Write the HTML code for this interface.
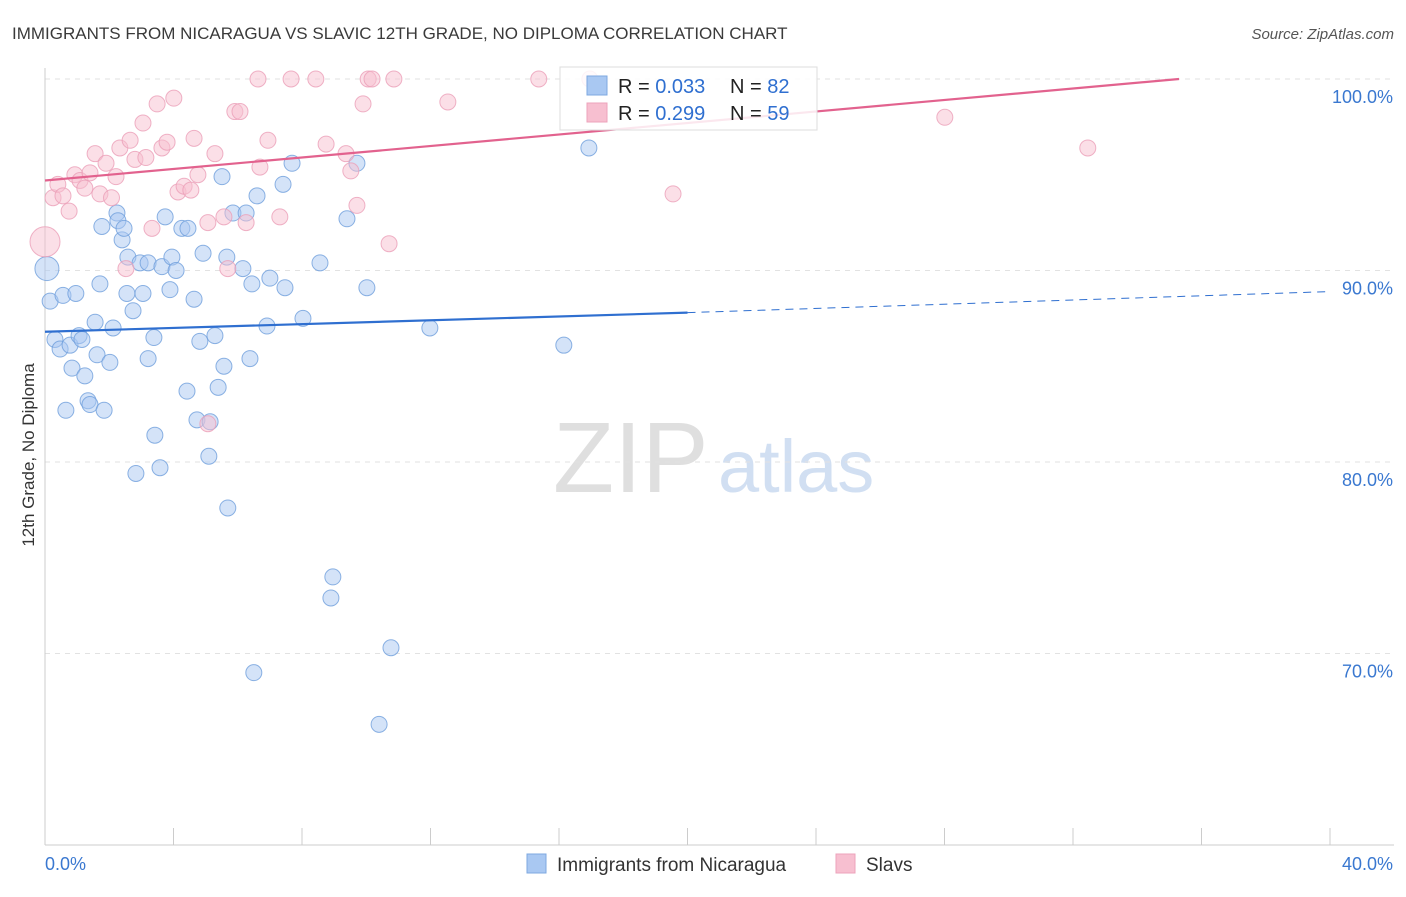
<!DOCTYPE html>
<html><head><meta charset="utf-8"><style>
body{margin:0;background:#fff;font-family:"Liberation Sans",sans-serif;}
svg text{font-family:"Liberation Sans",sans-serif;}
</style></head><body>
<svg id="chart" width="1406" height="892" xmlns="http://www.w3.org/2000/svg">
<text x="12" y="39" font-size="17" fill="#3a3a3a">IMMIGRANTS FROM NICARAGUA VS SLAVIC 12TH GRADE, NO DIPLOMA CORRELATION CHART</text>
<text x="1394" y="39" font-size="15" fill="#555" text-anchor="end" font-style="italic">Source: ZipAtlas.com</text>
<text transform="translate(34,455) rotate(-90)" font-size="17" fill="#333" text-anchor="middle">12th Grade, No Diploma</text>
<g>
<text x="553" y="492" font-size="100" fill="#d8d8d8" font-family="Liberation Serif" opacity="0.8">ZIP</text>
<text x="718" y="492" font-size="74" fill="#c6d8ef" opacity="0.8">atlas</text>
</g>
<g id="grid"></g><g id="axes"></g><g id="pts"></g><g id="lines"></g>
<g>
<rect x="560" y="67" width="257" height="63" fill="#fff" fill-opacity="0.85" stroke="#ddd"/>
<rect x="587" y="76" width="20" height="19" fill="#a9c8f2" stroke="#7ea8e0"/>
<rect x="587" y="103" width="20" height="19" fill="#f7bfd0" stroke="#eca3bb"/>
<text x="618" y="93" font-size="20" fill="#222">R = <tspan fill="#2f6fd0">0.033</tspan></text>
<text x="730" y="93" font-size="20" fill="#222">N = <tspan fill="#2f6fd0">82</tspan></text>
<text x="618" y="120" font-size="20" fill="#222">R = <tspan fill="#2f6fd0">0.299</tspan></text>
<text x="730" y="120" font-size="20" fill="#222">N = <tspan fill="#2f6fd0">59</tspan></text>
</g>
<g>
<rect x="527" y="854" width="19" height="19" fill="#a9c8f2" stroke="#7ea8e0"/>
<text x="557" y="871" font-size="19" fill="#333">Immigrants from Nicaragua</text>
<rect x="836" y="854" width="19" height="19" fill="#f7bfd0" stroke="#eca3bb"/>
<text x="866" y="871" font-size="19" fill="#333">Slavs</text>
</g>
</svg>
<script>
const yTicks=[100,90,80,70];
const xTickLabels=["0.0%","40.0%"];
const blueX=[0.06,0.16,0.31,0.47,0.56,0.65,0.78,0.84,0.96,1.06,1.15,1.24,1.34,1.40,1.56,1.62,1.71,1.84,2.02,2.12,1.77,2.24,2.27,2.40,2.46,2.58,2.55,2.74,2.83,2.96,3.05,3.21,3.21,3.39,3.42,3.58,3.64,3.74,3.89,3.95,4.08,4.26,4.45,4.42,4.64,4.73,4.82,4.92,5.10,5.14,5.29,5.39,5.51,5.57,5.66,5.69,5.85,6.16,6.26,6.38,6.50,6.44,6.60,6.91,7.00,7.41,7.47,7.69,8.03,8.56,8.90,8.96,9.40,9.71,10.02,10.40,10.77,11.98,16.15,16.93];
const blueY=[90.1,88.4,86.4,85.9,88.7,82.7,86.1,84.9,88.8,86.6,86.4,84.5,83.2,83.0,87.3,85.6,89.3,82.7,85.2,87.0,92.3,93.0,92.6,91.6,92.2,90.7,88.8,87.9,79.4,90.4,88.8,90.4,85.4,86.5,81.4,79.7,90.2,92.8,89.0,90.7,90.0,92.2,92.2,83.7,88.5,82.2,86.3,90.9,80.3,82.1,86.6,83.9,94.9,85.0,90.7,77.6,93.0,90.1,93.0,85.4,69.0,89.3,93.9,87.1,89.6,94.5,89.1,95.6,87.5,90.4,72.9,74.0,92.7,95.6,89.1,66.3,70.3,87.0,86.1,96.4];
const pinkX=[0,0.25,0.40,0.56,0.75,0.93,1.09,1.24,1.40,1.56,1.71,1.90,2.07,2.21,2.33,2.52,2.65,2.80,3.05,3.14,3.33,3.49,3.64,3.80,4.01,4.14,4.33,4.54,4.64,4.76,5.07,5.07,5.29,5.57,5.69,5.91,6.07,6.26,6.63,6.69,6.94,7.31,7.66,8.43,8.75,9.37,9.52,9.71,9.90,10.06,10.18,10.71,10.86,12.54,15.37,16.96,19.55,28.01,32.46];
const pinkY=[91.5,93.8,94.5,93.9,93.1,95.0,94.7,94.3,95.1,96.1,94.0,95.6,93.8,94.9,96.4,90.1,96.8,95.8,97.7,95.9,92.2,98.7,96.4,96.7,99.0,94.1,94.4,94.2,96.9,95.0,92.5,82.0,96.1,92.8,90.1,98.3,98.3,92.5,100,95.4,96.8,92.8,100,100,96.6,96.1,95.2,93.4,98.7,100,100,91.4,100,98.8,100,100,94.0,98.0,96.4];
const blueTrend=[86.8,87.8,88.9];
const pinkTrend=[94.7,100];
const X=v=>45+v*32.125, Y=v=>79+(100-v)*19.15;
const NS="http://www.w3.org/2000/svg";
function mk(parent,tag,attrs){const e=document.createElementNS(NS,tag);for(const k in attrs)e.setAttribute(k,attrs[k]);document.getElementById(parent).appendChild(e);return e;}
yTicks.forEach(t=>{
 const l=mk('grid','line',{x1:45,x2:1394,y1:Y(t),y2:Y(t),stroke:'#e2e2e2','stroke-dasharray':'5,5'});
 
 
 const tx=mk('axes','text',{x:1393,y:Y(t)+24,'font-size':18,fill:'#3a78d0','text-anchor':'end'});
 tx.textContent=t.toFixed(1)+'%';
 
 
});
const ya=mk('axes','line',{x1:45,x2:45,y1:68,y2:845,stroke:'#ccc'});


const xa=mk('axes','line',{x1:45,x2:1394,y1:845,y2:845,stroke:'#ccc'});


for(let i=0;i<=40;i+=4){const t=mk('axes','line',{x1:X(i),x2:X(i),y1:828,y2:845,stroke:'#ccc'});
 
 }
[[0,'start',45],[40,'end',1393]].forEach((d,i)=>{const t=mk('axes','text',{x:d[2],y:870,'font-size':18,fill:'#3a78d0','text-anchor':d[1]});t.textContent=xTickLabels[i];
 
 });
blueX.forEach((x,i)=>{const c=mk('pts','circle',{cx:X(x),cy:Y(blueY[i]),r:i==0?12:8,fill:'#a9c8f2','fill-opacity':0.5,stroke:'#6f9fdc','stroke-opacity':0.8});
 
 });
pinkX.forEach((x,i)=>{const c=mk('pts','circle',{cx:X(x),cy:Y(pinkY[i]),r:i==0?15:8,fill:'#f7bfd0','fill-opacity':0.5,stroke:'#eb9fb8','stroke-opacity':0.8});
 
 });
const b1=mk('lines','line',{x1:X(0),y1:Y(blueTrend[0]),x2:X(20),y2:Y(blueTrend[1]),stroke:'#2f6fd0','stroke-width':2.2});


const b2=mk('lines','line',{x1:X(20),y1:Y(blueTrend[1]),x2:X(40),y2:Y(blueTrend[2]),stroke:'#2f6fd0','stroke-width':1,'stroke-dasharray':'8,6'});


const p1=mk('lines','line',{x1:X(0),y1:Y(pinkTrend[0]),x2:X(35.3),y2:Y(pinkTrend[1]),stroke:'#e2628e','stroke-width':2.2});


</script>
</body></html>
